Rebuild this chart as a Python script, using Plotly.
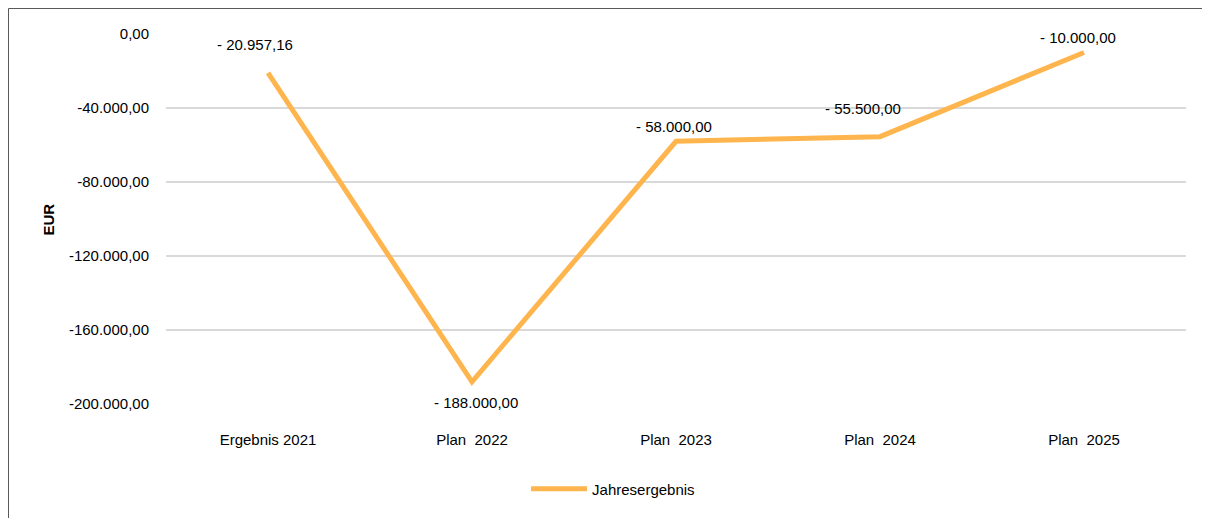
import plotly.graph_objects as go

categories = ["Ergebnis 2021", "Plan  2022", "Plan  2023", "Plan  2024", "Plan  2025"]
values = [-20957.16, -188000.00, -58000.00, -55500.00, -10000.00]
value_labels = ["- 20.957,16", "- 188.000,00", "- 58.000,00", "- 55.500,00", "- 10.000,00"]
tick_values = [0, -40000, -80000, -120000, -160000, -200000]
tick_labels = ["0,00", "-40.000,00", "-80.000,00", "-120.000,00", "-160.000,00", "-200.000,00"]
series_name = "Jahresergebnis"

label_shifts = [(-13, 28), (4, -21), (-2, 15), (-17, 28), (-6, 15)]

FONT = "Liberation Sans, Arial, sans-serif"
FS = 15
LINE = "#FFB54D"

fig = go.Figure()
fig.add_trace(go.Scatter(
    x=categories, y=values, mode="lines", name=series_name,
    line=dict(color=LINE, width=5),
))

for c, v, t, (dx, dy) in zip(categories, values, value_labels, label_shifts):
    fig.add_annotation(x=c, y=v, text=t, showarrow=False, xshift=dx, yshift=dy,
                       font=dict(family=FONT, size=FS, color="#000000"))

fig.add_annotation(xref="paper", yref="paper", x=-0.1255, y=0.5, text="<b>EUR</b>",
                   textangle=-90, showarrow=False,
                   font=dict(family=FONT, size=FS, color="#000000"))

# outer frame (left and top edges visible in the window)
fig.add_shape(type="line", xref="paper", yref="paper", x0=-0.1544, x1=-0.1544, y0=-0.6, y1=1.0689,
              line=dict(color="#595959", width=1), layer="below")
fig.add_shape(type="line", xref="paper", yref="paper", x0=-0.1544, x1=1.1, y0=1.0689, y1=1.0689,
              line=dict(color="#595959", width=1), layer="below")

fig.update_layout(
    width=1202, height=510,
    margin=dict(l=158, r=24, t=26, b=114),
    paper_bgcolor="white", plot_bgcolor="white",
    font=dict(family=FONT, size=FS, color="#000000"),
    showlegend=True,
    legend=dict(orientation="h", x=0.353, xanchor="left", y=-0.23, yanchor="middle",
                font=dict(family=FONT, size=FS, color="#000000"), itemwidth=56),
    xaxis=dict(type="category", range=[-0.5, 4.5], showgrid=False, zeroline=False,
               showline=False, ticks="", ticklabelstandoff=25,
               tickfont=dict(family=FONT, size=FS, color="#000000")),
    yaxis=dict(range=[-200000, 0], tickvals=tick_values, ticktext=tick_labels,
               showgrid=True, gridcolor="#D9D9D9", gridwidth=2, zeroline=False,
               showline=False, ticks="", ticklabelstandoff=16,
               tickfont=dict(family=FONT, size=FS, color="#000000")),
)

fig.write_html("out.html")
